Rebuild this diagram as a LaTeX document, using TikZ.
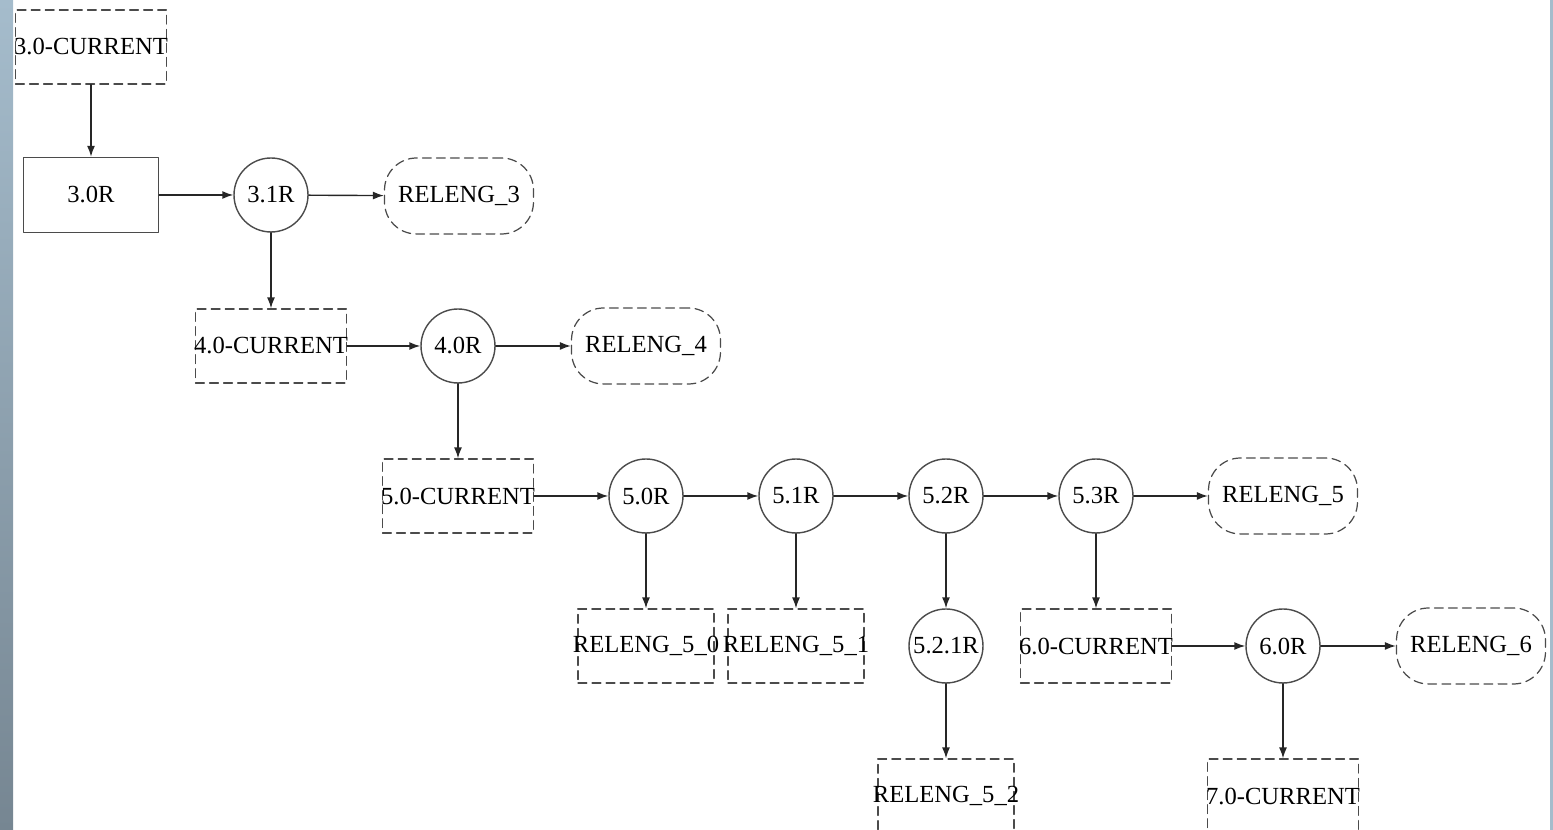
\documentclass[tikz,border=0pt]{standalone}
\usepackage{fontspec}
\setmainfont{Liberation Serif}
\usetikzlibrary{arrows.meta, positioning, shapes}
\definecolor{framegray}{RGB}{75,75,75}
\definecolor{stripblue}{RGB}{165,188,204}
\definecolor{stripgray}{RGB}{118,134,146}

\begin{document}
\begin{tikzpicture}[x=0.02cm, y=-0.02cm, line cap=round, line join=round,
    >={Latex[length=2.2mm,width=1.6mm]},
    every node/.style={font=\fontsize{14pt}{16pt}\selectfont, inner sep=0pt},
    cur/.style={draw=framegray, line width=0.7pt, dash pattern=on 5pt off 3pt,
        minimum width=3.02cm, minimum height=1.48cm},
    relbox/.style={cur, minimum width=2.72cm},
    rootbox/.style={draw=framegray, line width=0.8pt, minimum width=2.7cm, minimum height=1.5cm},
    rel/.style={draw=framegray, line width=0.8pt, circle, minimum size=1.48cm},
    branch/.style={draw=framegray, line width=0.7pt, dash pattern=on 5pt off 3pt,
        rounded corners=0.64cm, minimum width=2.98cm, minimum height=1.52cm},
    link/.style={->, draw=black!85, line width=0.8pt}]
    \useasboundingbox (0,0) rectangle (1553,830);
    \shade[top color=stripblue, bottom color=stripgray] (0,0) rectangle (13,830);
    \fill[stripblue] (1550,0) rectangle (1553,830);

    % release 3
    \node[cur] (c30) at (91,47) {\makebox[0pt]{3.0-CURRENT}};
    \node[rootbox] (r30) at (91,195) {\makebox[0pt]{3.0R}};
    \node[rel] (r31) at (271,195) {\makebox[0pt]{3.1R}};
    \node[branch] (b3) at (459,196) {\makebox[0pt]{RELENG\_3}};

    % release 4
    \node[cur] (c40) at (271,346) {\makebox[0pt]{4.0-CURRENT}};
    \node[rel] (r40) at (458,346) {\makebox[0pt]{4.0R}};
    \node[branch] (b4) at (646,346) {\makebox[0pt]{RELENG\_4}};

    % release 5
    \node[cur] (c50) at (458,496) {\makebox[0pt]{5.0-CURRENT}};
    \node[rel] (r50) at (646,496) {\makebox[0pt]{5.0R}};
    \node[rel] (r51) at (796,496) {\makebox[0pt]{5.1R}};
    \node[rel] (r52) at (946,496) {\makebox[0pt]{5.2R}};
    \node[rel] (r53) at (1096,496) {\makebox[0pt]{5.3R}};
    \node[branch] (b5) at (1283,496) {\makebox[0pt]{RELENG\_5}};
    \node[relbox] (b50) at (646,646) {\makebox[0pt]{RELENG\_5\_0}};
    \node[relbox] (b51) at (796,646) {\makebox[0pt]{RELENG\_5\_1}};
    \node[rel] (r521) at (946,646) {\makebox[0pt]{5.2.1R}};
    \node[relbox] (b52) at (946,796) {\makebox[0pt]{RELENG\_5\_2}};

    % release 6
    \node[cur] (c60) at (1096,646) {\makebox[0pt]{6.0-CURRENT}};
    \node[rel] (r60) at (1283,646) {\makebox[0pt]{6.0R}};
    \node[branch] (b6) at (1471,646) {\makebox[0pt]{RELENG\_6}};
    \node[cur] (c70) at (1283,796) {\makebox[0pt]{7.0-CURRENT}};

    \draw[link] (c30) -- (r30);
    \draw[link] (r30) -- (r31);
    \draw[link] (r31) -- (b3);
    \draw[link] (r31) -- (c40);
    \draw[link] (c40) -- (r40);
    \draw[link] (r40) -- (b4);
    \draw[link] (r40) -- (c50);
    \draw[link] (c50) -- (r50);
    \draw[link] (r50) -- (r51);
    \draw[link] (r51) -- (r52);
    \draw[link] (r52) -- (r53);
    \draw[link] (r53) -- (b5);
    \draw[link] (r50) -- (b50);
    \draw[link] (r51) -- (b51);
    \draw[link] (r52) -- (r521);
    \draw[link] (r521) -- (b52);
    \draw[link] (r53) -- (c60);
    \draw[link] (c60) -- (r60);
    \draw[link] (r60) -- (b6);
    \draw[link] (r60) -- (c70);
\end{tikzpicture}
\end{document}
